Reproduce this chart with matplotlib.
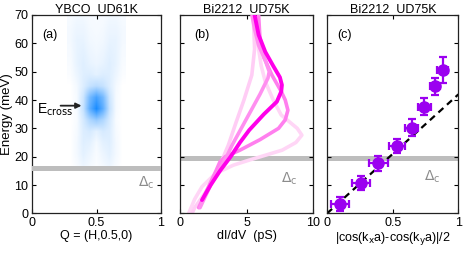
import numpy as np
import matplotlib
matplotlib.use("Agg")
import matplotlib.pyplot as plt
from matplotlib.colors import LinearSegmentedColormap

plt.rcParams['font.family'] = ['Liberation Sans', 'DejaVu Sans']
plt.rcParams['font.size'] = 9

# ---------------- data ----------------
# Panel (a): intensity map
q_cols = [0.30, 0.35, 0.40, 0.45, 0.50, 0.55, 0.60, 0.65, 0.70]
e_rows = [17, 21, 25, 29, 33, 37, 41, 45, 49, 53, 57, 61, 65, 69]
intensity = [
    [0.00, 0.03, 0.08, 0.05, 0.02, 0.05, 0.08, 0.03, 0.00],
    [0.00, 0.05, 0.12, 0.08, 0.03, 0.08, 0.12, 0.05, 0.00],
    [0.00, 0.05, 0.14, 0.12, 0.05, 0.12, 0.14, 0.05, 0.00],
    [0.00, 0.04, 0.15, 0.18, 0.12, 0.18, 0.15, 0.04, 0.00],
    [0.00, 0.03, 0.18, 0.35, 0.45, 0.35, 0.18, 0.03, 0.00],
    [0.00, 0.04, 0.25, 0.70, 1.00, 0.70, 0.25, 0.04, 0.00],
    [0.00, 0.04, 0.22, 0.60, 0.80, 0.60, 0.22, 0.04, 0.00],
    [0.00, 0.05, 0.15, 0.25, 0.30, 0.25, 0.15, 0.05, 0.00],
    [0.02, 0.08, 0.14, 0.15, 0.12, 0.15, 0.14, 0.08, 0.02],
    [0.03, 0.10, 0.14, 0.10, 0.08, 0.10, 0.14, 0.10, 0.03],
    [0.04, 0.10, 0.12, 0.08, 0.06, 0.08, 0.12, 0.10, 0.04],
    [0.05, 0.10, 0.10, 0.06, 0.05, 0.06, 0.10, 0.10, 0.05],
    [0.05, 0.08, 0.08, 0.05, 0.04, 0.05, 0.08, 0.08, 0.05],
    [0.04, 0.06, 0.06, 0.04, 0.03, 0.04, 0.06, 0.06, 0.04],
]
e_cross = 38
delta_a = 16

# Panel (b): dI/dV spectra (energy, conductance)
spec1_e = [0, 5, 9.4, 14, 17, 18.8, 20.5, 22.3, 25, 27.6, 30, 34.7, 40, 46.5, 52, 58, 64, 70]
spec1_g = [0.65, 1.1, 1.65, 2.65, 4.0, 5.2, 6.4, 7.67, 8.7, 9.15, 8.8, 7.6, 7.0, 6.4, 6.1, 5.9, 5.7, 5.6]
spec2_e = [0, 2, 8, 16, 24.1, 32, 40, 48.8, 58, 64, 70]
spec2_g = [0.9, 1.1, 2.0, 2.9, 3.63, 4.2, 4.8, 5.39, 5.6, 5.55, 5.5]
spec3_e = [2, 5, 10, 15, 18.2, 20, 22.3, 26, 30, 33, 36.4, 40, 43, 48.8, 55, 62, 70]
spec3_g = [1.4, 1.7, 2.2, 2.7, 3.0, 3.4, 4.5, 6.0, 7.4, 7.9, 8.1, 7.9, 7.6, 6.9, 6.3, 6.0, 5.9]
spec4_e = [4.7, 10, 15, 20, 25, 29.4, 35, 39.4, 43, 45.3, 48, 52, 57, 63, 70]
spec4_g = [1.65, 2.3, 3.0, 3.8, 4.5, 5.2, 6.3, 7.27, 7.6, 7.65, 7.5, 7.0, 6.4, 5.9, 5.6]
spec5_e = [2, 5, 10, 15, 20, 24, 30, 36, 42, 47.7, 50, 54, 59.3, 65, 70]
spec5_g = [1.5, 1.8, 2.3, 2.9, 3.5, 3.9, 4.6, 5.3, 6.0, 6.6, 6.7, 6.4, 5.9, 5.6, 5.4]
delta_b = 19.5

# Panel (c): energy vs d-wave form factor
fw = [0.097, 0.26, 0.39, 0.53, 0.645, 0.74, 0.82, 0.88]
energy_c = [3.2, 10.8, 17.6, 23.8, 30.2, 37.6, 44.9, 50.6]
fw_err = [0.07, 0.07, 0.07, 0.06, 0.05, 0.05, 0.04, 0.04]
en_err = [2.5, 2.5, 2.5, 2.5, 3.0, 3.0, 3.0, 4.5]
slope_c = 42
delta_c = 19.5

# ---------------- figure ----------------
fig = plt.figure(figsize=(4.64, 2.54), dpi=100)
bot, hgt = 0.160, 0.781
axa = fig.add_axes([0.069, bot, 0.278, hgt])
axb = fig.add_axes([0.388, bot, 0.287, hgt])
axc = fig.add_axes([0.705, bot, 0.283, hgt])

gray = '#bdbdbd'
dgray = '#8c8c8c'

for ax in (axa, axb, axc):
    ax.set_ylim(0, 70)
    ax.set_yticks(range(0, 71, 10))
    ax.tick_params(direction='in', top=True, right=True, length=3, width=0.8, pad=2.5,
                   labelsize=9)
    for s in ax.spines.values():
        s.set_linewidth(0.9)
        s.set_color('#222222')

# (a)
cmap = LinearSegmentedColormap.from_list('wb', ['#ffffff', '#1a8cff'])
dq = q_cols[1] - q_cols[0]
de = e_rows[1] - e_rows[0]
axa.imshow(np.array(intensity), origin='lower', cmap=cmap, vmin=0, vmax=1,
           interpolation='bilinear', aspect='auto',
           extent=[q_cols[0] - dq / 2, q_cols[-1] + dq / 2, e_rows[0] - de / 2, e_rows[-1] + de / 2])
axa.set_xlim(0, 1)
axa.set_ylim(0, 70)
axa.set_xticks([0, 0.5, 1])
axa.set_xticklabels(['0', '0.5', '1'])
axa.axhline(delta_a, color=gray, lw=3.6, zorder=3)
axa.text(0.82, 9.5, r'$\Delta_\mathrm{c}$', color=dgray, fontsize=10)
axa.text(0.08, 62, '(a)', fontsize=9)
axa.annotate('', xy=(0.405, e_cross), xytext=(0.2, e_cross),
             arrowprops=dict(arrowstyle='-|>', color='#222222', lw=1.3, mutation_scale=8))
axa.text(0.04, e_cross - 1.5, r'E$_{\mathrm{cross}}$', fontsize=10, va='center')
axa.set_title('YBCO  UD61K', fontsize=9, pad=1.5)
axa.set_xlabel('Q = (H,0.5,0)', labelpad=1)
axa.set_ylabel('Energy (meV)', labelpad=1, fontsize=9.5)

# (b)
axb.axhline(delta_b, color=gray, lw=3.6, zorder=1)
axb.plot(spec1_g, spec1_e, color='#ffd6f6', lw=2.6, solid_capstyle='round', zorder=2)
axb.plot(spec2_g, spec2_e, color='#ffcdf5', lw=2.6, solid_capstyle='round', zorder=2)
axb.plot(spec3_g, spec3_e, color='#ff7fee', lw=2.6, solid_capstyle='round', zorder=3)
axb.plot(spec5_g, spec5_e, color='#ff8ff0', lw=2.6, solid_capstyle='round', zorder=3)
axb.plot(spec4_g, spec4_e, color='#ff00ea', lw=2.8, solid_capstyle='round', zorder=4)
axb.set_xlim(0, 10)
axb.set_xticks([0, 5, 10])
axb.set_yticklabels([])
axb.text(7.6, 11, r'$\Delta_\mathrm{c}$', color=dgray, fontsize=10)
axb.text(1.1, 62, '(b)', fontsize=9)
axb.set_title('Bi2212  UD75K', fontsize=9, pad=1.5)
axb.set_xlabel('dI/dV  (pS)', labelpad=1)

# (c)
axc.axhline(delta_c, color=gray, lw=3.6, zorder=1)
xl = np.array([0, 1])
axc.plot(xl, slope_c * xl, color='black', lw=1.6, ls=(0, (3, 2.2)), zorder=2)
axc.errorbar(fw, energy_c, xerr=fw_err, yerr=en_err, fmt='o', color='#9b00f0',
             ms=8, mec='#9b00f0', elinewidth=1.6, capsize=3, capthick=1.6, zorder=3)
axc.set_xlim(0, 1)
axc.set_xticks([0, 0.5, 1])
axc.set_xticklabels(['0', '0.5', '1'])
axc.set_yticklabels([])
axc.text(0.74, 11.5, r'$\Delta_\mathrm{c}$', color=dgray, fontsize=10)
axc.text(0.08, 62, '(c)', fontsize=9)
axc.set_title('Bi2212  UD75K', fontsize=9, pad=1.5)
axc.set_xlabel(r'|cos(k$_\mathrm{x}$a)-cos(k$_\mathrm{y}$a)|/2', labelpad=1)

fig.savefig('out.png', dpi=100)
